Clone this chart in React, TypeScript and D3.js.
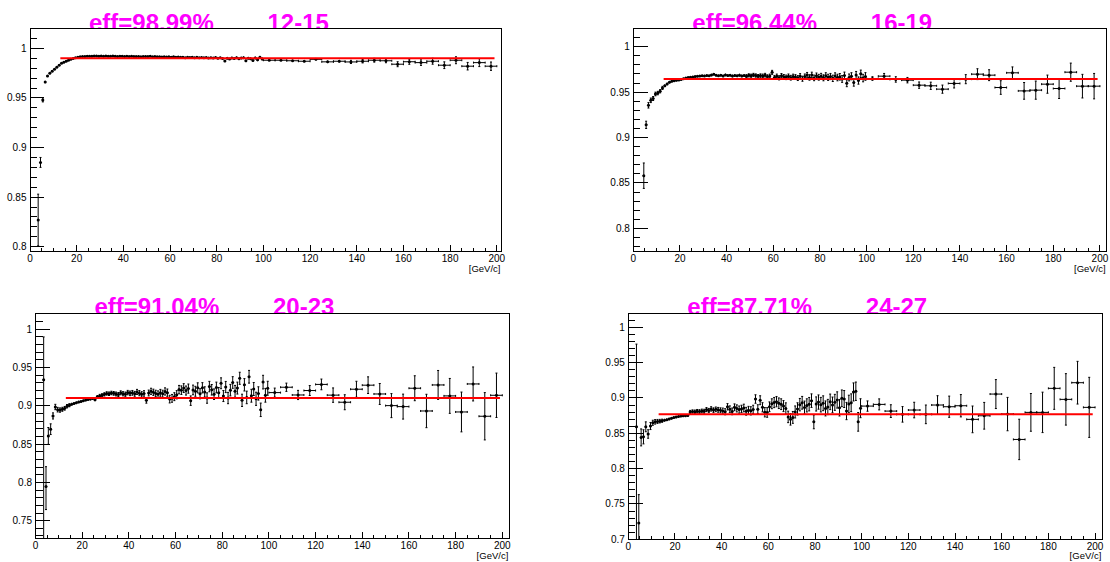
import React from "react";
import * as d3 from "d3";

// Bin centres: 1 GeV/c bins up to 100, 5 GeV/c bins up to 200
const fineCenters: number[] = d3.range(3.5, 100, 1);
const coarseCenters: number[] = d3.range(102.5, 200, 5);
const fineHalfWidth = 0.5;
const coarseHalfWidth = 2.5;

// Fit plateau results (shown in the panel headers) and fit range
const fitEff = [0.9899, 0.9644, 0.9104, 0.8771];
const fitRange = [13, 199];
const ringLabels = ["12-15", "16-19", "20-23", "24-27"];

// ---- panel 12-15 ----
const eff1Fine = [
  0.827, 0.885, 0.948, 0.966, 0.972, 0.975, 0.977,
  0.979, 0.981, 0.983, 0.985, 0.986, 0.987, 0.988, 0.989, 0.9898, 0.9905,
  0.991, 0.9914, 0.9917, 0.9919, 0.992, 0.9921, 0.9921, 0.9922, 0.9922, 0.9921,
  0.9922, 0.9921, 0.9922, 0.992, 0.9921, 0.9922, 0.992, 0.9919, 0.9921, 0.992,
  0.9919, 0.992, 0.9918, 0.992, 0.9919, 0.9917, 0.9919, 0.9916, 0.9918, 0.9919,
  0.9917, 0.992, 0.9916, 0.9917, 0.9914, 0.9916, 0.9913, 0.9915, 0.9912, 0.9914,
  0.9911, 0.9914, 0.991, 0.9913, 0.9909, 0.9911, 0.9906, 0.991, 0.9908, 0.9911,
  0.9906, 0.9909, 0.9905, 0.9908, 0.9904, 0.9907, 0.9902, 0.9906, 0.9903, 0.9908,
  0.9901, 0.9905, 0.9897, 0.9872, 0.9899, 0.9893, 0.9903, 0.9898, 0.9906, 0.9895,
  0.9902, 0.9906, 0.9874, 0.9901, 0.9895, 0.9878, 0.9903, 0.9884, 0.9909, 0.9893,
];
const err1Fine = [
  0.026, 0.005, 0.002, 0.0012, 0.001, 0.001, 0.0009,
  0.0008, 0.0008, 0.0007, 0.0007, 0.0007, 0.0006, 0.0006, 0.0006, 0.0006, 0.0005,
  0.0005, 0.0005, 0.0005, 0.0005, 0.0005, 0.0005, 0.0005, 0.0005, 0.0005, 0.0005,
  0.0005, 0.0005, 0.0005, 0.0005, 0.0005, 0.0005, 0.0005, 0.0005, 0.0005, 0.0005,
  0.0005, 0.0005, 0.0005, 0.0005, 0.0006, 0.0006, 0.0006, 0.0006, 0.0006, 0.0006,
  0.0006, 0.0006, 0.0006, 0.0006, 0.0006, 0.0007, 0.0007, 0.0007, 0.0007, 0.0007,
  0.0007, 0.0007, 0.0007, 0.0008, 0.0008, 0.0008, 0.0008, 0.0008, 0.0008, 0.0008,
  0.0008, 0.0009, 0.0009, 0.0009, 0.0009, 0.0009, 0.001, 0.001, 0.001, 0.001,
  0.001, 0.001, 0.0011, 0.0011, 0.0011, 0.0011, 0.0012, 0.0012, 0.0012, 0.0012,
  0.0012, 0.0013, 0.0013, 0.0013, 0.0013, 0.0014, 0.0014, 0.0014, 0.0015, 0.0015,
];
const eff1FineErrDown: number[] = [];
const eff1Coarse = [
  0.988, 0.988, 0.9875, 0.987, 0.9889, 0.9864, 0.987, 0.9863, 0.987, 0.988,
  0.9875, 0.984, 0.9865, 0.9856, 0.987, 0.983, 0.988, 0.982, 0.9856, 0.982,
];
const err1Coarse = [
  0.0008, 0.0009, 0.001, 0.0011, 0.0012, 0.0013, 0.0014, 0.0016, 0.0017, 0.0019,
  0.002, 0.0025, 0.0026, 0.0028, 0.003, 0.0034, 0.0035, 0.0038, 0.004, 0.0042,
];

// ---- panel 16-19 ----
const eff2Fine: (number | null)[] = [
  null, 0.858, 0.914, 0.9355, 0.941, 0.943, 0.948,
  0.949, 0.951, 0.9547, 0.957, 0.959, 0.961, 0.962, 0.9625, 0.963, 0.9635,
  0.964, 0.9648, 0.9655, 0.966, 0.9665, 0.9668, 0.9671, 0.9675, 0.9677, 0.968,
  0.9679, 0.9683, 0.968, 0.9688, 0.9698, 0.9685, 0.968, 0.9687, 0.9679, 0.969,
  0.9682, 0.9686, 0.9678, 0.9684, 0.968, 0.9687, 0.9679, 0.9683, 0.9676, 0.9685,
  0.9681, 0.9689, 0.9683, 0.9675, 0.9682, 0.9679, 0.9687, 0.967, 0.9678, 0.9718,
  0.9662, 0.9676, 0.9658, 0.9681, 0.967, 0.9663, 0.9675, 0.9659, 0.9672, 0.9666,
  0.9655, 0.9676, 0.9648, 0.9671, 0.9688, 0.9662, 0.969, 0.9657, 0.968, 0.9664,
  0.9675, 0.9658, 0.9681, 0.9663, 0.9672, 0.9652, 0.9678, 0.9661, 0.9669, 0.9645,
  0.9684, 0.9598, 0.9662, 0.9675, 0.9605, 0.9688, 0.9628, 0.9702, 0.9655, 0.9673,
];
const err2Fine = [
  0, 0.014, 0.004, 0.003, 0.0025, 0.0022, 0.002,
  0.0019, 0.0018, 0.0017, 0.0016, 0.0015, 0.0014, 0.0013, 0.0013, 0.0012, 0.0012,
  0.0011, 0.0011, 0.0011, 0.0011, 0.0011, 0.0011, 0.0011, 0.0011, 0.0012, 0.0012,
  0.0012, 0.0012, 0.0012, 0.0013, 0.0013, 0.0013, 0.0013, 0.0013, 0.0014, 0.0014,
  0.0014, 0.0014, 0.0015, 0.0015, 0.0015, 0.0016, 0.0016, 0.0016, 0.0017, 0.0017,
  0.0017, 0.0018, 0.0018, 0.0019, 0.0019, 0.002, 0.002, 0.0021, 0.0021, 0.0022,
  0.0022, 0.0023, 0.0023, 0.0024, 0.0024, 0.0025, 0.0025, 0.0026, 0.0026, 0.0027,
  0.0027, 0.0028, 0.0028, 0.0029, 0.0029, 0.003, 0.003, 0.0031, 0.0031, 0.0032,
  0.0032, 0.0033, 0.0033, 0.0034, 0.0034, 0.0035, 0.0035, 0.0036, 0.0036, 0.0037,
  0.0037, 0.0038, 0.0038, 0.0039, 0.0039, 0.004, 0.004, 0.0041, 0.0041, 0.0042,
];
const eff2FineErrDown: number[] = [];
const eff2Coarse = [
  0.965, 0.9676, 0.964, 0.9632, 0.9577, 0.957, 0.9533, 0.9596, 0.9643, 0.9698,
  0.9687, 0.9551, 0.9713, 0.9514, 0.9522, 0.9588, 0.954, 0.972, 0.9566, 0.9566,
];
const err2Coarse = [
  0.002, 0.003, 0.003, 0.003, 0.0035, 0.004, 0.0045, 0.005, 0.005, 0.006,
  0.006, 0.0075, 0.0065, 0.0092, 0.01, 0.01, 0.011, 0.01, 0.013, 0.014,
];

// ---- panel 20-23 ----
const eff3Fine = [
  0.934, 0.7945, 0.8607, 0.8695, 0.8868, 0.8985, 0.895,
  0.8945, 0.8955, 0.8968, 0.8995, 0.9008, 0.9021, 0.9032, 0.904, 0.905, 0.9058,
  0.9066, 0.9075, 0.9083, 0.9088, 0.9095, 0.9078, 0.9122, 0.913, 0.9138, 0.915,
  0.9162, 0.9158, 0.9168, 0.9163, 0.9155, 0.9148, 0.917, 0.9158, 0.9152, 0.9173,
  0.9163, 0.917, 0.9157, 0.9182, 0.9166, 0.915, 0.9162, 0.9072, 0.9168, 0.919,
  0.9177, 0.9162, 0.9152, 0.917, 0.9158, 0.9188, 0.9172, 0.9088, 0.9098, 0.912,
  0.9145, 0.9212, 0.9205, 0.9232, 0.92, 0.9225, 0.9068, 0.9208, 0.919, 0.9235,
  0.9158, 0.9236, 0.9182, 0.9102, 0.9252, 0.921, 0.9152, 0.924, 0.917, 0.9295,
  0.9128, 0.9246, 0.9102, 0.9205, 0.9305, 0.919, 0.9232, 0.936, 0.9072, 0.9275,
  0.911, 0.938, 0.9132, 0.922, 0.9092, 0.9162, 0.8948, 0.931, 0.9138, 0.923,
];
const err3Fine = [
  0.056, 0.026, 0.011, 0.007, 0.004, 0.0035, 0.003,
  0.0028, 0.0026, 0.0024, 0.0022, 0.002, 0.0019, 0.0018, 0.0017, 0.0016, 0.0016,
  0.0016, 0.0017, 0.0017, 0.0018, 0.0018, 0.0019, 0.0019, 0.002, 0.002, 0.0021,
  0.0022, 0.0023, 0.0023, 0.0024, 0.0025, 0.0026, 0.0026, 0.0027, 0.0028, 0.0029,
  0.003, 0.0031, 0.0032, 0.0033, 0.0034, 0.0035, 0.0036, 0.0037, 0.0038, 0.004,
  0.0041, 0.0042, 0.0043, 0.0045, 0.0046, 0.0047, 0.0048, 0.005, 0.0051, 0.0052,
  0.0054, 0.0055, 0.0056, 0.0058, 0.0059, 0.006, 0.0062, 0.0063, 0.0065, 0.0066,
  0.0066, 0.0067, 0.0067, 0.0068, 0.0068, 0.0069, 0.0069, 0.007, 0.007, 0.0071,
  0.0072, 0.0073, 0.0074, 0.0075, 0.0076, 0.0077, 0.0078, 0.0079, 0.008, 0.0081,
  0.0082, 0.0083, 0.0084, 0.0085, 0.0086, 0.0087, 0.0088, 0.0089, 0.009, 0.0091,
];
const eff3FineErrDown = [0.22, 0.03];
const eff3Coarse = [
  0.9173, 0.9243, 0.9142, 0.92, 0.928, 0.914, 0.9047, 0.9217, 0.927, 0.9155,
  0.9003, 0.899, 0.923, 0.8933, 0.9273, 0.913, 0.892, 0.9286, 0.8864, 0.9138,
];
const err3Coarse = [
  0.0059, 0.0054, 0.006, 0.0065, 0.007, 0.0094, 0.0098, 0.0104, 0.0109, 0.0137,
  0.0157, 0.0163, 0.0163, 0.0218, 0.0189, 0.0228, 0.026, 0.0222, 0.0309, 0.029,
];

// ---- panel 24-27 ----
const eff4Fine = [
  0.8592, 0.7232, 0.8442, 0.845, 0.8592, 0.849, 0.8603,
  0.8649, 0.8662, 0.8668, 0.8672, 0.8678, 0.8685, 0.8692, 0.8702, 0.8712, 0.8722,
  0.873, 0.8738, 0.8745, 0.8748, 0.875, 0.8752, 0.8802, 0.8808, 0.8805, 0.8812,
  0.8808, 0.8815, 0.8812, 0.8835, 0.8822, 0.8845, 0.8828, 0.8839, 0.8832, 0.8825,
  0.8815, 0.8805, 0.8875, 0.8842, 0.881, 0.8868, 0.8852, 0.8835, 0.8845, 0.8858,
  0.8812, 0.8825, 0.8818, 0.8838, 0.8985, 0.8842, 0.8968, 0.8868, 0.8798, 0.8795,
  0.8875, 0.8918, 0.8935, 0.8948, 0.8925, 0.8912, 0.8885, 0.8852, 0.8732, 0.8698,
  0.8725, 0.8802, 0.8845, 0.8905, 0.8932, 0.8865, 0.8895, 0.8912, 0.8962, 0.8662,
  0.8915, 0.8942, 0.8905, 0.8925, 0.8852, 0.8872, 0.8945, 0.8902, 0.8938, 0.8972,
  0.8862, 0.8995, 0.8985, 0.8815, 0.8915, 0.8932, 0.9085, 0.9095, 0.8662, 0.8855,
];
const err4Fine = [
  0.117, 0.04, 0.012, 0.01, 0.007, 0.006, 0.005,
  0.0036, 0.0032, 0.0028, 0.0025, 0.0022, 0.002, 0.0019, 0.0018, 0.0017, 0.0017,
  0.0017, 0.0018, 0.0018, 0.0019, 0.0019, 0.002, 0.0022, 0.0023, 0.0024, 0.0025,
  0.0026, 0.0027, 0.0028, 0.0029, 0.003, 0.0031, 0.0032, 0.0033, 0.0034, 0.0035,
  0.0042, 0.0043, 0.0045, 0.0046, 0.0047, 0.0048, 0.005, 0.0051, 0.0052, 0.0054,
  0.0055, 0.0056, 0.0058, 0.0059, 0.006, 0.0062, 0.0063, 0.0065, 0.0066, 0.0068,
  0.0069, 0.007, 0.0072, 0.0073, 0.0075, 0.0076, 0.0078, 0.0079, 0.0081, 0.0082,
  0.0084, 0.0085, 0.0087, 0.0088, 0.009, 0.0091, 0.0093, 0.0095, 0.0096, 0.0098,
  0.01, 0.0101, 0.0103, 0.0105, 0.0106, 0.0108, 0.011, 0.0111, 0.0113, 0.0115,
  0.0117, 0.0118, 0.012, 0.0122, 0.0124, 0.0126, 0.0128, 0.013, 0.0132, 0.0134,
];
const eff4FineErrDown = [0.17, 0.03];
const eff4Coarse = [
  0.8885, 0.8909, 0.8814, 0.8768, 0.8829, 0.8768, 0.89, 0.8876, 0.889, 0.8697,
  0.8748, 0.9055, 0.8772, 0.8413, 0.8796, 0.8796, 0.9136, 0.898, 0.9216, 0.8867,
];
const err4Coarse = [
  0.0073, 0.0078, 0.009, 0.011, 0.011, 0.0132, 0.0132, 0.015, 0.0158, 0.0189,
  0.0189, 0.0205, 0.0236, 0.0286, 0.0267, 0.0286, 0.0297, 0.0364, 0.0302, 0.0425,
];

// Axis ranges of each pad
const xMaxes = [202, 202.9, 203, 203.1];
const yRanges: [number, number][] = [
  [0.7952, 1.0200],
  [0.7745, 1.0201],
  [0.7267, 1.0209],
  [0.7, 1.0198],
];

// Frame placement inside the canvas
const frames = [
  { L: 30, R: 501.5, T: 28.5, B: 251.5, titleBase: 31 },
  { L: 633.3, R: 1106.7, T: 28.5, B: 251.5, titleBase: 31 },
  { L: 35.5, R: 509.3, T: 313.3, B: 538.5, titleBase: 314.5 },
  { L: 628.3, R: 1102.3, T: 313.3, B: 539.3, titleBase: 314.5 },
];

const FONT = "'Liberation Sans', Arial, Helvetica, sans-serif";

type PanelData = {
  fine: (number | null)[];
  fineErr: number[];
  fineErrDown: number[];
  coarse: number[];
  coarseErr: number[];
};

const panelData: PanelData[] = [
  { fine: eff1Fine, fineErr: err1Fine, fineErrDown: eff1FineErrDown, coarse: eff1Coarse, coarseErr: err1Coarse },
  { fine: eff2Fine, fineErr: err2Fine, fineErrDown: eff2FineErrDown, coarse: eff2Coarse, coarseErr: err2Coarse },
  { fine: eff3Fine, fineErr: err3Fine, fineErrDown: eff3FineErrDown, coarse: eff3Coarse, coarseErr: err3Coarse },
  { fine: eff4Fine, fineErr: err4Fine, fineErrDown: eff4FineErrDown, coarse: eff4Coarse, coarseErr: err4Coarse },
];

function Panel({ idx }: { idx: number }) {
  const f = frames[idx];
  const data = panelData[idx];
  const [yMin, yMax] = yRanges[idx];
  const x = d3.scaleLinear().domain([0, xMaxes[idx]]).range([f.L, f.R]);
  const y = d3.scaleLinear().domain([yMin, yMax]).range([f.B, f.T]);

  type Pt = { c: number; hw: number; v: number; up: number; dn: number };
  const pts: Pt[] = [];
  fineCenters.forEach((c, i) => {
    const v = data.fine[i];
    if (v == null) return;
    const up = data.fineErr[i];
    const dn = i < data.fineErrDown.length ? data.fineErrDown[i] : up;
    pts.push({ c, hw: fineHalfWidth, v, up, dn });
  });
  coarseCenters.forEach((c, i) => {
    pts.push({ c, hw: coarseHalfWidth, v: data.coarse[i], up: data.coarseErr[i], dn: data.coarseErr[i] });
  });

  const yMajor = d3
    .range(Math.ceil(yMin / 0.05 - 1e-6), Math.floor(yMax / 0.05 + 1e-6) + 1)
    .map((k) => +(k * 0.05).toFixed(4));
  const yMinor = d3
    .range(Math.ceil(yMin / 0.01 - 1e-6), Math.floor(yMax / 0.01 + 1e-6) + 1)
    .map((k) => +(k * 0.01).toFixed(4));
  const xMajor = d3.range(0, 201, 20);
  const xMinor = d3.range(0, 201, 5);

  const frameW = f.R - f.L;
  const frameH = f.B - f.T;
  const yTickMajor = 0.03 * frameW;
  const xTickMajor = 0.03 * frameH;
  const clipId = `clip-${idx}`;
  const eff = fitEff[idx];

  return (
    <g>
      <defs>
        <clipPath id={clipId}>
          <rect x={f.L} y={f.T} width={frameW} height={frameH} />
        </clipPath>
      </defs>
      {/* header text, partly covered by the frame */}
      <text
        x={f.L + 59}
        y={f.titleBase}
        fill="#ff00ff"
        fontFamily={FONT}
        fontWeight="bold"
        fontSize={24}
      >
        {`eff=${(eff * 100).toFixed(2)}%`}
      </text>
      <text
        x={f.L + 237.5}
        y={f.titleBase}
        fill="#ff00ff"
        fontFamily={FONT}
        fontWeight="bold"
        fontSize={24}
      >
        {ringLabels[idx]}
      </text>
      <rect x={f.L} y={f.T} width={frameW} height={frameH} fill="#fff" />

      {/* data points with error bars */}
      <g clipPath={`url(#${clipId})`} stroke="#000" strokeWidth={1} fill="none">
        {pts.map((p, i) => {
          const cx = x(p.c);
          const cy = y(p.v);
          const y0 = y(p.v - p.dn);
          const y1 = y(p.v + p.up);
          const x0 = x(p.c - p.hw);
          const x1 = x(p.c + p.hw);
          return (
            <g key={i}>
              <line x1={cx} x2={cx} y1={y0} y2={y1} />
              <line x1={x0} x2={x1} y1={cy} y2={cy} />
              {y0 - y1 > 3 && (
                <>
                  <line x1={cx - 1} x2={cx + 1} y1={y0} y2={y0} />
                  <line x1={cx - 1} x2={cx + 1} y1={y1} y2={y1} />
                </>
              )}
              {p.hw > 1 && (
                <>
                  <line x1={x0} x2={x0} y1={cy - 1} y2={cy + 1} />
                  <line x1={x1} x2={x1} y1={cy - 1} y2={cy + 1} />
                </>
              )}
              <circle cx={cx} cy={cy} r={1.5} fill="#000" stroke="none" />
            </g>
          );
        })}
      </g>

      {/* constant fit */}
      <line
        x1={x(fitRange[0])}
        x2={x(fitRange[1])}
        y1={y(eff)}
        y2={y(eff)}
        stroke="#ff0000"
        strokeWidth={2}
      />

      {/* frame */}
      <rect
        x={f.L}
        y={f.T}
        width={frameW}
        height={frameH}
        fill="none"
        stroke="#000"
        strokeWidth={1}
        shapeRendering="crispEdges"
      />

      {/* y axis */}
      <g stroke="#000" strokeWidth={1} shapeRendering="crispEdges">
        {yMinor.map((v) => (
          <line key={`ym${v}`} x1={f.L} x2={f.L + yTickMajor / 2} y1={y(v)} y2={y(v)} />
        ))}
        {yMajor.map((v) => (
          <line key={`yM${v}`} x1={f.L} x2={f.L + yTickMajor} y1={y(v)} y2={y(v)} />
        ))}
        {xMinor.map((v) => (
          <line key={`xm${v}`} x1={x(v)} x2={x(v)} y1={f.B} y2={f.B - xTickMajor / 2} />
        ))}
        {xMajor.map((v) => (
          <line key={`xM${v}`} x1={x(v)} x2={x(v)} y1={f.B} y2={f.B - xTickMajor} />
        ))}
      </g>
      <g fontFamily={FONT} fontSize={10} fill="#000">
        {yMajor.map((v) => (
          <text key={`yl${v}`} x={f.L - 3.5} y={y(v)} dy="0.35em" textAnchor="end">
            {String(v)}
          </text>
        ))}
        {xMajor.map((v) => (
          <text key={`xl${v}`} x={x(v)} y={f.B + 10.6} textAnchor="middle">
            {String(v)}
          </text>
        ))}
        <text x={f.R - 1} y={f.B + 20} textAnchor="end" fontSize={9.5}>
          [GeV/c]
        </text>
      </g>
    </g>
  );
}

export default function App() {
  return (
    <svg
      width={1110}
      height={562}
      viewBox="0 0 1110 562"
      style={{ position: "absolute", left: 0, top: 0, background: "#fff" }}
    >
      <rect width={1110} height={562} fill="#fff" />
      {[0, 1, 2, 3].map((i) => (
        <Panel key={i} idx={i} />
      ))}
    </svg>
  );
}
